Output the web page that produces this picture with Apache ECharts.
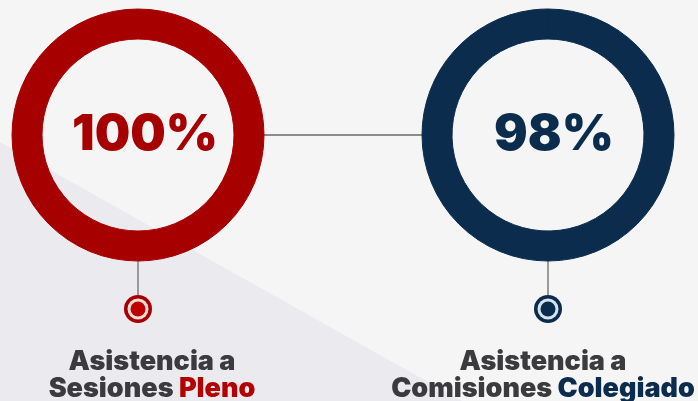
<!DOCTYPE html>
<html>
<head>
<meta charset="utf-8">
<script src="https://cdn.jsdelivr.net/npm/echarts@6/dist/echarts.min.js"></script>
<style>
  html, body { margin: 0; padding: 0; background: #f5f5f6; }
  #main { width: 698px; height: 401px; }
</style>
</head>
<body>
<div id="main"></div>
<script>
// data
var groups = ['Sesiones', 'Comisiones'];
var bodies = ['Pleno', 'Colegiado'];
var values = [100, 98];
var colors = ['#a60000', '#0b2c4d'];
var lightRing = ['#f4dcd6', '#d3e3f0'];

// layout
var centersX = [138, 548];
var centerY = 135;
var rIn = 96, rOut = 126;
var markerY = 309;
var textX = [147, 538];

var myChart = echarts.init(document.getElementById('main'));

var series = values.map(function (v, i) {
  return {
    type: 'pie',
    silent: true,
    center: [centersX[i], centerY],
    radius: [rIn, rOut],
    startAngle: 90,
    emphasis: { disabled: true },
    labelLine: { show: false },
    itemStyle: { borderColor: colors[i], borderWidth: 1 },
    data: [
      {
        value: v,
        itemStyle: { color: colors[i] },
        label: {
          show: true,
          position: 'center',
          formatter: v + '%',
          color: colors[i],
          fontFamily: 'Inter',
          fontWeight: 900,
          fontSize: 50,
          letterSpacing: -3,
          padding: [4, 0, 0, 14 - i * 2]
        }
      },
      {
        value: 100 - v,
        itemStyle: { color: colors[i] },
        label: { show: false }
      }
    ]
  };
});

var graphics = [
  {
    type: 'polygon',
    silent: true,
    z: -10,
    shape: { points: [[0, 142], [462, 401], [0, 401]] },
    style: { fill: '#ebebef' }
  },
  {
    type: 'line',
    silent: true,
    shape: { x1: centersX[0] + rOut, y1: centerY, x2: centersX[1] - rOut, y2: centerY },
    style: { stroke: '#8c8c8c', lineWidth: 2 }
  }
];

centersX.forEach(function (cx, i) {
  graphics.push({
    type: 'line',
    silent: true,
    shape: { x1: cx, y1: centerY + rOut, x2: cx, y2: markerY - 14 },
    style: { stroke: '#9a9a9a', lineWidth: 2 }
  });
  graphics.push({
    type: 'circle', silent: true,
    shape: { cx: cx, cy: markerY, r: 14 },
    style: { fill: colors[i] }
  });
  graphics.push({
    type: 'circle', silent: true,
    shape: { cx: cx, cy: markerY, r: 10.5 },
    style: { fill: lightRing[i] }
  });
  graphics.push({
    type: 'circle', silent: true,
    shape: { cx: cx, cy: markerY, r: 7.5 },
    style: { fill: i === 0 ? '#c00000' : colors[i] }
  });
});

var titles = groups.map(function (g, i) {
  return {
    left: textX[i],
    top: 343,
    textAlign: 'center',
    text: '{d|Asistencia a}\n{d|' + g + ' }{h|' + bodies[i] + '}',
    textStyle: {
      rich: {
        d: { color: '#3b3b3d', fontFamily: 'Inter', fontWeight: 900, fontSize: 27, lineHeight: 27, letterSpacing: -0.4 },
        h: { color: i === 0 ? '#b30000' : colors[i], fontFamily: 'Inter', fontWeight: 900, fontSize: 27, lineHeight: 27, letterSpacing: -0.4 }
      }
    }
  };
});

myChart.setOption({
  backgroundColor: '#f5f5f6',
  animation: false,
  title: titles,
  graphic: graphics,
  series: series
});
</script>
</body>
</html>
